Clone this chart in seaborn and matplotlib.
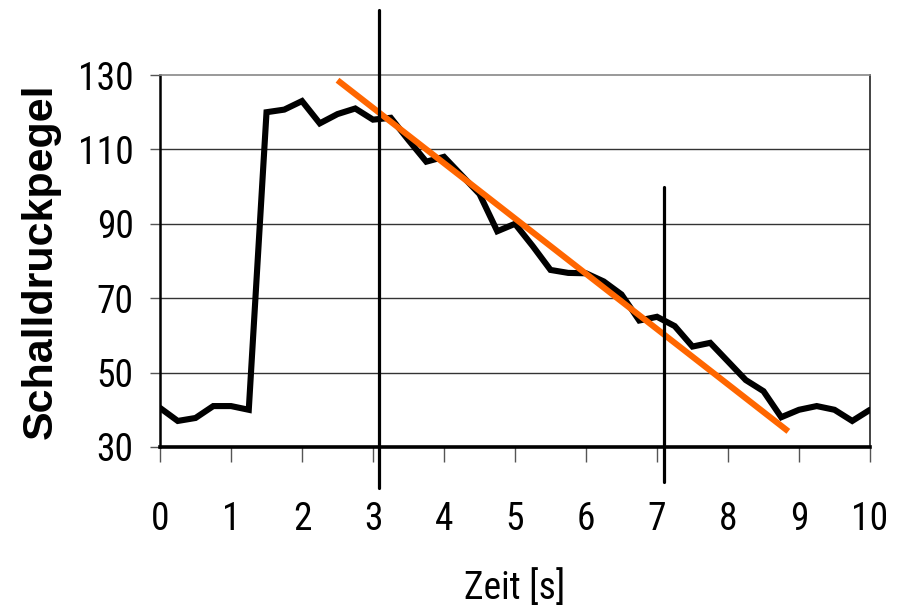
import matplotlib
matplotlib.use("Agg")
import matplotlib.pyplot as plt
import seaborn as sns
import pandas as pd
from matplotlib import font_manager

# Data
time_s = [0, 0.25, 0.5, 0.75, 1, 1.25, 1.5, 1.75, 2, 2.25, 2.5, 2.75, 3, 3.25, 3.5,
          3.75, 4, 4.25, 4.5, 4.75, 5, 5.25, 5.5, 5.75, 6, 6.25, 6.5, 6.75, 7, 7.25,
          7.5, 7.75, 8, 8.25, 8.5, 8.75, 9, 9.25, 9.5, 9.75, 10]
level = [40.5, 37, 37.8, 41, 41, 40, 120, 120.7, 123, 117, 119.5, 121, 118, 118.5, 112.5,
         106.7, 108, 103, 98, 88, 90, 84, 77.6, 76.8, 76.7, 74.5, 71, 64, 65, 62.5,
         57, 58, 53, 48, 45, 38, 40, 41, 40, 37, 40]
trend_x = [2.5, 8.85]
trend_y = [128.6, 34.2]
marker_x = [3.09, 7.1]
x_ticks = [0, 1, 2, 3, 4, 5, 6, 7, 8, 9, 10]
y_ticks = [30, 50, 70, 90, 110, 130]

sns.set_theme(style="white")
available = {f.name for f in font_manager.fontManager.ttflist}
condensed = [n for n in ["Liberation Sans Narrow", "Arial Narrow", "Roboto Condensed",
                         "DejaVu Sans Condensed", "Open Sans Condensed"] if n in available]
narrow = condensed + ["Liberation Sans", "DejaVu Sans"]
plt.rcParams["font.family"] = narrow
plt.rcParams["text.color"] = "black"
plt.rcParams["axes.labelcolor"] = "black"
plt.rcParams["xtick.color"] = "black"
plt.rcParams["ytick.color"] = "black"
tick_size = 27 if condensed else 25

fig = plt.figure(figsize=(8.98, 6.06), dpi=100)
ax = fig.add_axes([0.1782, 0.2624, 0.7906, 0.6138])

df = pd.DataFrame({"t": time_s, "L": level})
sns.lineplot(data=df, x="t", y="L", ax=ax, color="black", linewidth=4.4,
             solid_joinstyle="miter", zorder=4)
sns.lineplot(x=trend_x, y=trend_y, ax=ax, color="#FF6600", linewidth=4.4,
             solid_capstyle="butt", zorder=5)

ax.set_xlim(0, 10)
ax.set_ylim(30, 130)
ax.set_xticks(x_ticks)
ax.set_yticks(y_ticks)
ax.set_xticklabels([str(v) for v in x_ticks])
ax.set_yticklabels([str(v) for v in y_ticks])

for y in y_ticks[1:-1]:
    ax.axhline(y, color="#333333", linewidth=1.0, zorder=1)

# vertical marker lines extending beyond the axes
ax.axvline(marker_x[0], ymin=-0.110, ymax=1.175, color="black", linewidth=2.3,
           clip_on=False, zorder=6)
ax.axvline(marker_x[1], ymin=-0.094, ymax=0.699, color="black", linewidth=2.3,
           clip_on=False, zorder=6)

ax.spines["left"].set_color("black")
ax.spines["left"].set_linewidth(1.8)
ax.spines["bottom"].set_color("black")
ax.spines["bottom"].set_linewidth(2.6)
ax.spines["top"].set_color("#888888")
ax.spines["top"].set_linewidth(1.2)
ax.spines["right"].set_color("#222222")
ax.spines["right"].set_linewidth(1.2)

ax.tick_params(axis="x", direction="out", length=11, width=1.0, color="#555555",
               pad=28, labelsize=tick_size, labelcolor="black", bottom=True)
ax.tick_params(axis="y", direction="out", length=7, width=1.0, color="#555555",
               pad=12, labelsize=tick_size, labelcolor="black", left=True)

ax.set_xlabel("Zeit [s]", fontsize=tick_size, labelpad=22, color="black")
ax.set_ylabel("Schalldruckpegel", fontsize=31, fontweight="bold", color="black",
              family=["Liberation Sans", "DejaVu Sans"], labelpad=12)

fig.savefig("out.png", dpi=100)
